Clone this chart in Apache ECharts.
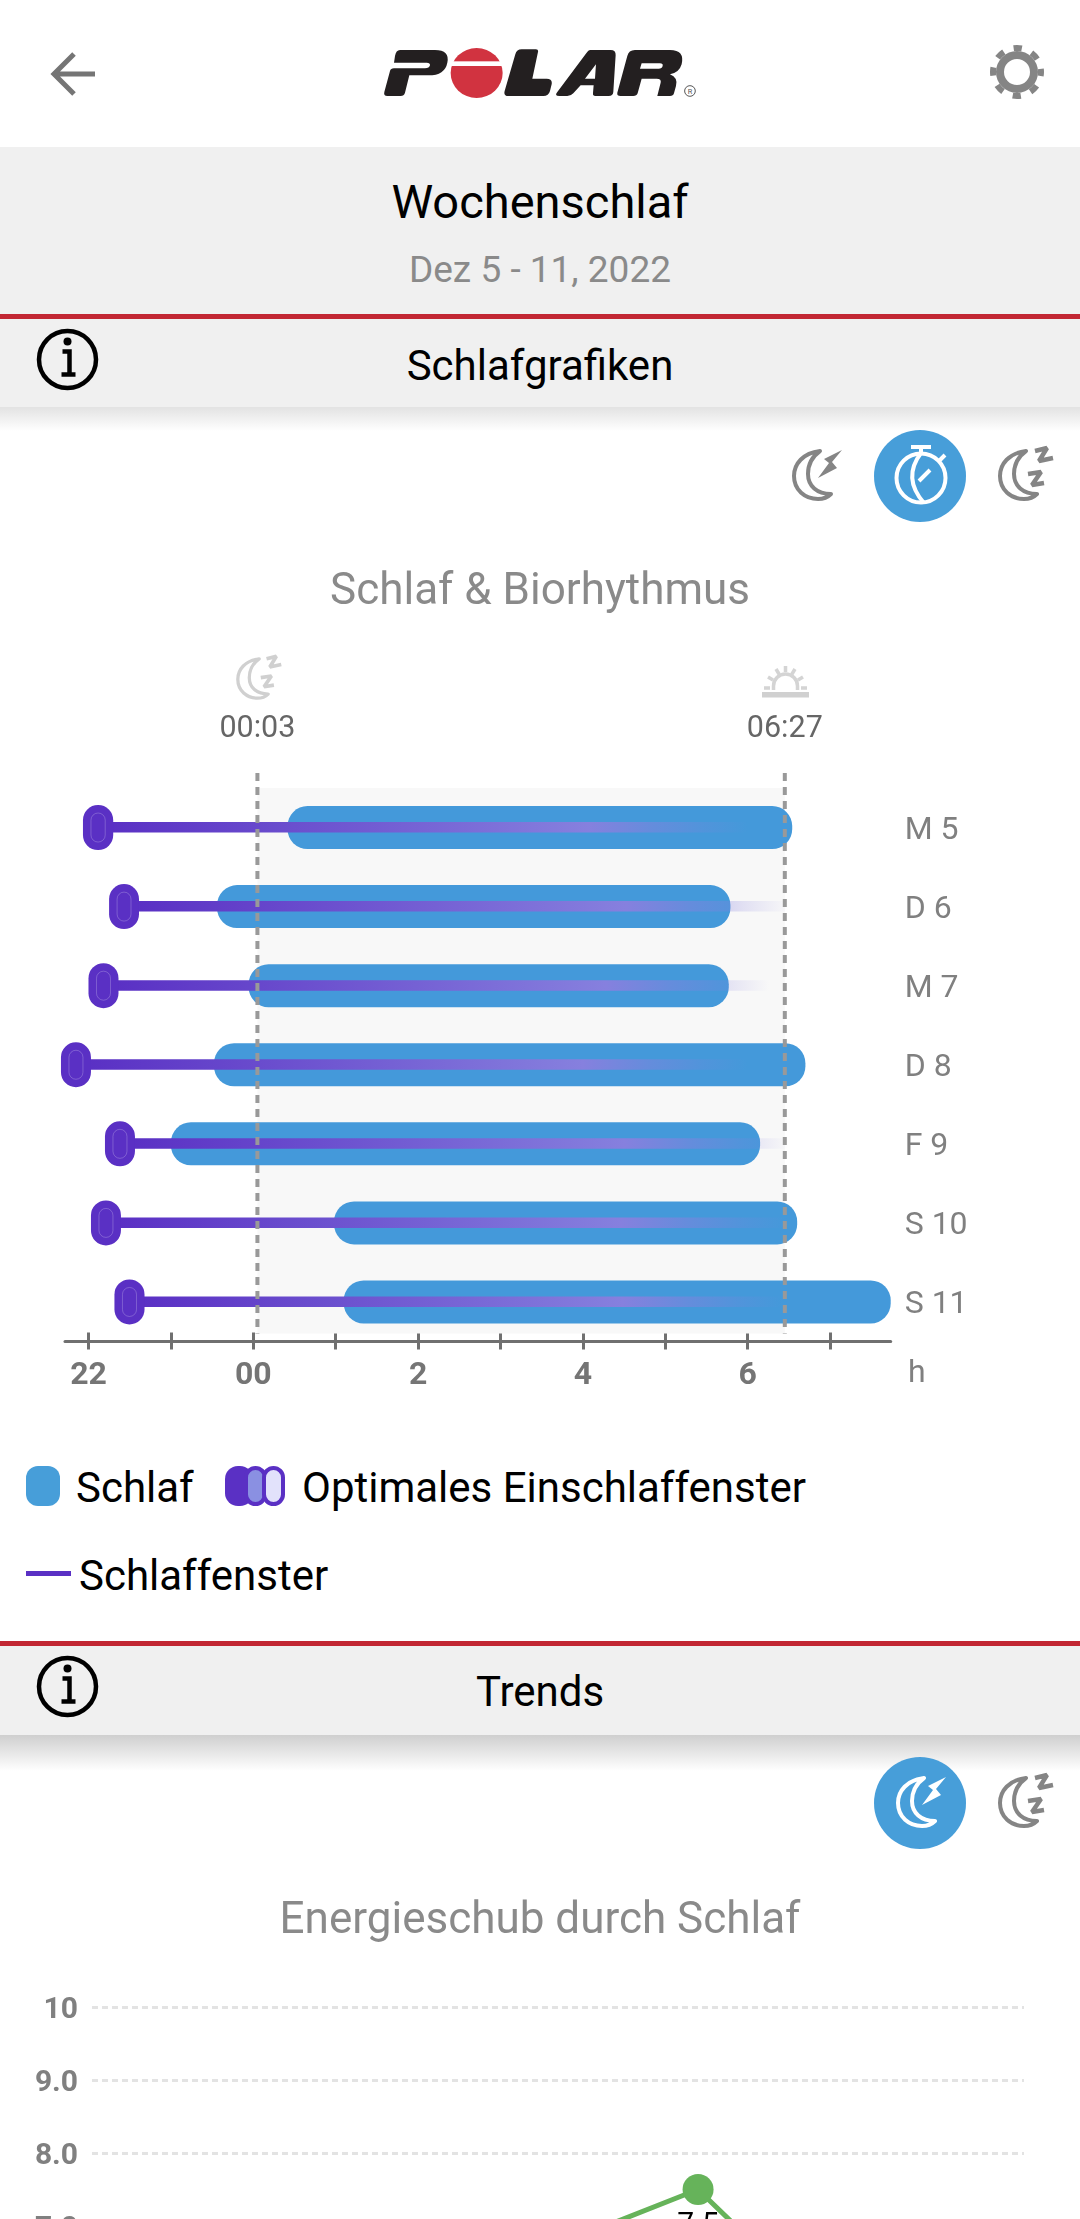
<!DOCTYPE html>
<html lang="de">
<head>
<meta charset="UTF-8">
<title>Wochenschlaf</title>
<script src="https://cdn.jsdelivr.net/npm/echarts@6/dist/echarts.min.js"></script>
<style>
    html, body { margin: 0; width: 1080px; height: 2219px; overflow: hidden; background: #fff; font-family: Roboto, sans-serif; }
    .band { position: absolute; left: 0; width: 1080px; background: #f0f0f0; }
    .red { position: absolute; left: 0; width: 1080px; height: 5px; background: #c22733; }
    .shadow { position: absolute; left: 0; width: 1080px; background: linear-gradient(#cfcfcf, rgba(255,255,255,0)); }
    .t { position: absolute; white-space: nowrap; transform: translateY(-50%); line-height: 1; }
    .c { left: 0; width: 1080px; text-align: center; }
    svg.ui { position: absolute; left: 0; top: 0; }
    #chart { position: absolute; left: 0; top: 0; width: 1080px; height: 2219px; }
</style>
</head>
<body>
<div class="band" style="top:147px;height:167px"></div>
<div class="red" style="top:314px"></div>
<div class="band" style="top:319px;height:88px"></div>
<div class="shadow" style="top:407px;height:24px;opacity:.6"></div>
<div class="red" style="top:1641px"></div>
<div class="band" style="top:1646px;height:89px"></div>
<div class="shadow" style="top:1735px;height:36px"></div>

<div class="t c" style="top:201px;font-size:47px;color:#000">Wochenschlaf</div>
<div class="t c" style="top:269px;font-size:37px;color:#8a8a8a">Dez 5 - 11, 2022</div>
<div class="t c" style="top:366px;font-size:42px;color:#000">Schlafgrafiken</div>
<div class="t c" style="top:1692px;font-size:42px;color:#000">Trends</div>

<div class="t" style="left:76px;top:1488px;font-size:42px;color:#000">Schlaf</div>
<div class="t" style="left:302px;top:1488px;font-size:42px;color:#000">Optimales Einschlaffenster</div>
<div class="t" style="left:79px;top:1576px;font-size:42px;color:#000">Schlaffenster</div>

<svg class="ui" width="1080" height="2219" viewBox="0 0 1080 2219">
    <defs>
        <path id="moon" d="M27 1C10 3 1 14 1 26C1 40 12 49 25 49C30 49 35 47 38 44C24 44 15 36 15 24C15 14 20 6 27 1Z" fill="none" stroke-width="4" stroke-linejoin="round"/>
        <g id="moonBolt">
            <use href="#moon"/>
            <path d="M49 0L31 9L36 13L25 28L44 18L39 12Z" stroke="none" fill-opacity="1"/>
        </g>
        <g id="moonZ">
            <use href="#moon"/>
            <path d="M36 1L48 -2L40 11L54 8M29 24L42 22L33 35L45 33" fill="none" stroke-width="4.5" stroke-linejoin="bevel"/>
        </g>
        <g id="info">
            <circle cx="0" cy="0" r="28.5" fill="none" stroke="#000" stroke-width="4.5"/>
            <circle cx="0" cy="-18" r="4" fill="#000"/>
            <path d="M-5 -8H2V14M-6 15H8" fill="none" stroke="#000" stroke-width="4.5"/>
        </g>
    </defs>

    <!-- back arrow -->
    <path d="M54 74H95M74 54L54 74L74 94" fill="none" stroke="#757575" stroke-width="5"/>

    <!-- logo -->
    <g transform="translate(370 36) scale(.3333)">
        <title>POLAR</title>
        <path fill="#231f20" d="M90 42H195Q240 42 232 80Q225 118 175 118H118L105 170Q102 180 92 180H52Q40 180 43 168L60 105Q62 97 72 97H165Q178 97 180 88Q181 80 170 80H72L75 60Q78 42 90 42Z"/>
        <ellipse cx="320" cy="111" rx="78" ry="75" fill="#d13340"/>
        <rect x="235" y="76" width="170" height="14" fill="#fff"/>
        <path fill="#231f20" d="M455 40H498Q506 40 504 48L487 128H530Q548 128 545 145L540 165Q536 180 520 180H415Q400 180 404 165L436 55Q440 40 455 40Z"/>
        <path fill="#231f20" fill-rule="evenodd" d="M660 42H722Q738 42 737 58L730 168Q729 180 716 180H676Q668 180 669 172L671 148H632L610 172Q603 180 592 180H568Q552 180 562 168L650 50Q655 42 660 42ZM678 85L645 128H675Z"/>
        <path fill="#231f20" fill-rule="evenodd" d="M795 42H900Q945 42 935 85Q928 110 900 115Q925 125 918 150L912 172Q910 180 900 180H862L872 140Q875 128 860 128H815L803 172Q800 180 790 180H752Q740 180 742 170L772 60Q776 42 795 42ZM815 82H870Q880 82 878 90Q876 98 866 98H810Z"/>
        <circle cx="960" cy="165" r="16" fill="none" stroke="#555" stroke-width="3"/>
        <text x="960" y="173" font-size="22" text-anchor="middle" fill="#555" font-family="Roboto">R</text>
    </g>

    <!-- settings gear -->
    <circle cx="1017" cy="72" r="17" fill="none" stroke="#858585" stroke-width="8"/>
    <circle cx="1017" cy="72" r="24" fill="none" stroke="#858585" stroke-width="6" stroke-dasharray="8.4 10.45" stroke-dashoffset="4.2"/>

    <use href="#info" x="67.5" y="359.5"/>
    <use href="#info" x="67.5" y="1686.5"/>

    <!-- tab icons first block -->
    <use href="#moonBolt" x="793" y="450" stroke="#858585" fill="#858585"/>
    <circle cx="920" cy="476" r="46" fill="#479ed9"/>
    <g fill="none" stroke="#fff" stroke-width="4">
        <circle cx="921" cy="478" r="24.5"/>
        <path d="M921 453Q902 478 924 503M921 446V453M911 447H931M938 462L945 455M919 481L930 470"/>
    </g>
    <use href="#moonZ" x="999" y="450" stroke="#858585" fill="#858585"/>

    <!-- tab icons second block -->
    <circle cx="920" cy="1803" r="46" fill="#479ed9"/>
    <use href="#moonBolt" x="897" y="1777" stroke="#fff" fill="#fff"/>
    <use href="#moonZ" x="999" y="1777" stroke="#858585" fill="#858585"/>

    <!-- bedtime and wake icons -->
    <use href="#moonZ" transform="translate(237 658) scale(.82)" stroke="#d0d0d0" fill="#d0d0d0"/>
    <g fill="none" stroke="#d4d4d4" stroke-width="3.5">
        <path d="M773.5 690V686A12 12 0 0 1 797.5 686V690M764 688H770M801 688H807M768 677L773 680M803 677L798 680M776 669L779 674M795 669L792 674M785.5 666V672"/>
    </g>
    <rect x="762" y="692" width="47" height="5.5" fill="#d0d0d0"/>

    <!-- legend swatches -->
    <rect x="26" y="1466" width="34" height="40" rx="12" fill="#479ed9"/>
    <rect x="225" y="1466" width="28" height="40" rx="13" fill="#5a30c4"/>
    <rect x="246" y="1468" width="19" height="36" rx="9.5" fill="#8a90e2" stroke="#5a30c4" stroke-width="4"/>
    <rect x="264" y="1468" width="19" height="36" rx="9.5" fill="#e2e2fb" stroke="#5a30c4" stroke-width="4"/>
    <rect x="26" y="1571" width="45" height="5" fill="#5a30c4"/>
</svg>

<div id="chart"></div>

<script>
    // hours relative to midnight
    let days = ['M 5', 'D 6', 'M 7', 'D 8', 'F 9', 'S 10', 'S 11'];
    let sleepStart = [0.415, -0.44, -0.057, -0.477, -1.0, 0.98, 1.097];
    let sleepEnd = [6.54, 5.79, 5.77, 6.70, 6.15, 6.60, 7.735];
    let optimalStart = [-2.067, -1.75, -2.0, -2.334, -1.8, -1.97, -1.685];
    let optimalEnd = [-1.7, -1.387, -1.636, -1.97, -1.436, -1.606, -1.32];
    let windowEnd = [6.0, 6.5, 6.26, 6.0, 6.5, 6.5, 6.43];
    let bedTime = 0.05, wakeTime = 6.45;
    let bedLabel = '00:03', wakeLabel = '06:27';
    let hourTicks = [-2, -1, 0, 1, 2, 3, 4, 5, 6, 7];
    let hourLabels = [-2, 0, 2, 4, 6];

    // only the 7.5 point and the start of its two lines are inside the picture
    let trendDays = [0, 1, 2, 3, 4, 5, 6];
    let trendValues = [6.2, 6.5, 6.0, 6.78, 7.5, 5.74, 6.4];

    let chart = echarts.init(document.getElementById('chart'), null, {renderer: 'canvas'});

    function renderBand(params, api) {
        let a = api.coord([bedTime, 0]);
        let b = api.coord([wakeTime, days.length - 1]);
        let h = api.size([0, 1])[1];
        return {
            type: 'rect',
            shape: {x: a[0], y: a[1] - h / 2, width: b[0] - a[0], height: b[1] - a[1] + h - 8},
            style: {fill: '#f8f8f8'}
        };
    }

    function renderSleep(params, api) {
        let a = api.coord([api.value(0), api.value(2)]);
        let b = api.coord([api.value(1), api.value(2)]);
        return {
            type: 'rect',
            shape: {x: a[0], y: a[1] - 21.5, width: b[0] - a[0], height: 43, r: 20},
            style: {fill: '#4499da'}
        };
    }

    function renderWindow(params, api) {
        let a = api.coord([api.value(0), api.value(2)]);
        let b = api.coord([api.value(1), api.value(2)]);
        return {
            type: 'rect',
            shape: {x: a[0] - 4, y: a[1] - 5.5, width: b[0] - a[0] + 4, height: 10.5},
            style: {
                fill: {
                    type: 'linear', x: 0, y: 0, x2: 1, y2: 0,
                    colorStops: [
                        {offset: 0, color: '#5a30c4'},
                        {offset: 0.75, color: '#8680de'},
                        {offset: 0.85, color: 'rgba(134,128,222,0.5)'},
                        {offset: 0.93, color: 'rgba(134,128,222,0.2)'},
                        {offset: 1, color: 'rgba(134,128,222,0)'}
                    ]
                }
            }
        };
    }

    function renderOptimal(params, api) {
        let a = api.coord([api.value(0), api.value(2)]);
        let b = api.coord([api.value(1), api.value(2)]);
        let w = b[0] - a[0];
        return {
            type: 'group',
            children: [
                {
                    type: 'rect',
                    shape: {x: a[0], y: a[1] - 22.5, width: w, height: 45, r: 15},
                    style: {fill: '#5a30c4'}
                },
                {
                    type: 'rect',
                    shape: {x: a[0] + 8, y: a[1] - 14.5, width: w - 16, height: 29, r: 7},
                    style: {fill: 'none', stroke: 'rgba(255,255,255,0.22)', lineWidth: 1}
                }
            ]
        };
    }

    function renderMarker(params, api) {
        let idx = params.dataIndex;
        let top = api.coord([api.value(0), 0]);
        let bottom = api.coord([api.value(0), days.length - 1]);
        let h = api.size([0, 1])[1];
        return {
            type: 'group',
            children: [
                {
                    type: 'line',
                    shape: {x1: top[0], y1: top[1] - h / 2 - 15, x2: top[0], y2: bottom[1] + h / 2 - 8},
                    style: {stroke: '#999999', lineWidth: 4, lineDash: [8, 6]}
                },
                {
                    type: 'text',
                    style: {
                        text: idx === 0 ? bedLabel : wakeLabel,
                        x: top[0], y: 729,
                        align: 'center', verticalAlign: 'middle',
                        font: '30.5px Roboto', fill: '#666666'
                    }
                }
            ]
        };
    }

    function rows(a, b) {
        return days.map(function (d, i) { return [a[i], b[i], i]; });
    }

    let hourAxis = {
        type: 'value', gridIndex: 0, position: 'bottom', min: -2.285, max: 7.735,
        splitLine: {show: false}
    };

    let option = {
        animation: false,
        textStyle: {fontFamily: 'Roboto'},
        title: [
            {text: 'Schlaf & Biorhythmus', left: 'center', top: 566,
                textStyle: {fontFamily: 'Roboto', fontSize: 44, fontWeight: 'normal', color: '#8a8a8a'}},
            {text: 'Energieschub durch Schlaf', left: 'center', top: 1895,
                textStyle: {fontFamily: 'Roboto', fontSize: 44, fontWeight: 'normal', color: '#8a8a8a'}}
        ],
        graphic: [
            {type: 'text', left: 908, top: 1358, style: {text: 'h', font: '32px Roboto', fill: '#808080'}}
        ],
        grid: [
            {left: 65, width: 825.7, top: 788, height: 553.5, outerBoundsMode: 'none'},
            {left: 92, width: 932, top: 2007, height: 730, outerBoundsMode: 'none'}
        ],
        xAxis: [
            Object.assign({}, hourAxis, {
                axisLine: {show: true, lineStyle: {color: '#707070', width: 3}},
                axisTick: {show: true, customValues: hourTicks, length: 8, lineStyle: {color: '#707070', width: 3}},
                axisLabel: {
                    customValues: hourLabels, margin: 18,
                    fontFamily: 'Roboto', fontSize: 32, fontWeight: 'bold', color: '#757575',
                    formatter: function (v) { return v === 0 ? '00' : String(v < 0 ? 24 + v : v); }
                }
            }),
            Object.assign({}, hourAxis, {
                axisLine: {show: false},
                axisTick: {show: true, inside: true, customValues: hourTicks, length: 9, lineStyle: {color: '#707070', width: 3}},
                axisLabel: {show: false}
            }),
            {type: 'value', gridIndex: 1, min: -0.552, max: 6.448, show: false}
        ],
        yAxis: [
            {
                type: 'category', gridIndex: 0, data: days, inverse: true, position: 'right',
                axisLine: {show: false}, axisTick: {show: false},
                axisLabel: {
                    margin: 14,
                    formatter: '{a|{value}}',
                    rich: {a: {padding: [6, 0, 0, 0], fontFamily: 'Roboto', fontSize: 32, color: '#808080'}}
                }
            },
            {
                type: 'value', gridIndex: 1, min: 0, max: 10, interval: 1,
                axisLine: {show: false}, axisTick: {show: false},
                axisLabel: {
                    margin: 14,
                    formatter: function (v) { return '{a|' + (v === 10 ? '10' : v.toFixed(1)) + '}'; },
                    rich: {a: {padding: [6, 0, 0, 0], fontFamily: 'Roboto', fontSize: 30, fontWeight: 'bold', color: '#808080'}}
                },
                splitLine: {lineStyle: {color: '#e3e3e3', type: [6, 4], width: 3}}
            }
        ],
        series: [
            {type: 'custom', name: 'Band', xAxisIndex: 0, yAxisIndex: 0, z: 1, renderItem: renderBand,
                encode: {x: [0, 1], y: 2}, data: [[bedTime, wakeTime, 0]]},
            {type: 'custom', name: 'Schlaf', xAxisIndex: 0, yAxisIndex: 0, z: 3, renderItem: renderSleep,
                encode: {x: [0, 1], y: 2}, data: rows(sleepStart, sleepEnd)},
            {type: 'custom', name: 'Schlaffenster', xAxisIndex: 0, yAxisIndex: 0, z: 4, renderItem: renderWindow,
                encode: {x: [0, 1], y: 2}, data: rows(optimalEnd, windowEnd)},
            {type: 'custom', name: 'Optimales Einschlaffenster', xAxisIndex: 0, yAxisIndex: 0, z: 5, renderItem: renderOptimal,
                encode: {x: [0, 1], y: 2}, data: rows(optimalStart, optimalEnd)},
            {type: 'custom', name: 'Zeiten', xAxisIndex: 0, yAxisIndex: 0, z: 6, renderItem: renderMarker,
                encode: {x: 0}, data: [[bedTime], [wakeTime]]},
            {
                type: 'line', name: 'Energieschub', xAxisIndex: 2, yAxisIndex: 1, z: 3,
                data: trendDays.map(function (d, i) { return [d, trendValues[i]]; }),
                symbol: 'circle', symbolSize: 31,
                lineStyle: {color: '#66b35a', width: 5},
                itemStyle: {color: '#66b35a'},
                label: {
                    show: true, position: 'bottom', distance: 5,
                    fontFamily: 'Roboto', fontSize: 30, color: '#000',
                    formatter: function (p) { return p.value[1].toFixed(1); }
                }
            }
        ]
    };

    chart.setOption(option);
</script>
</body>
</html>
